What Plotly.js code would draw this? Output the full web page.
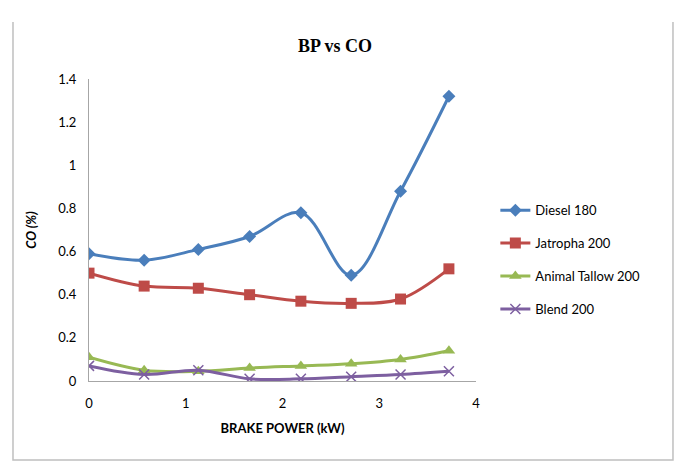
<!DOCTYPE html>
<html><head><meta charset="utf-8">
<script src="https://cdn.plot.ly/plotly-3.0.1.min.js"></script>
<style>html,body{margin:0;padding:0;background:#fff}#chart{width:677px;height:469px}</style>
</head><body><div id="chart"></div>
<script>
const brakePower = [0, 0.57, 1.13, 1.66, 2.19, 2.71, 3.22, 3.72];
const diesel = [0.59, 0.56, 0.61, 0.67, 0.78, 0.49, 0.88, 1.32];
const jatropha = [0.50, 0.44, 0.43, 0.40, 0.37, 0.36, 0.38, 0.52];
const animalTallow = [0.11, 0.05, 0.045, 0.06, 0.07, 0.08, 0.10, 0.14];
const blend = [0.07, 0.03, 0.05, 0.01, 0.01, 0.02, 0.03, 0.045];
const seriesNames = ['Diesel 180', 'Jatropha 200', 'Animal Tallow 200', 'Blend 200'];
const xTicks = [0, 1, 2, 3, 4];
const yTicks = [0, 0.2, 0.4, 0.6, 0.8, 1, 1.2, 1.4];

const colors = ['#4A7EBB', '#BE4B48', '#98B954', '#7D5FA0'];
const symbols = ['diamond', 'square', 'triangle-up', 'x-thin'];
const sizes = [10, 11, 11, 10];
const data = [diesel, jatropha, animalTallow, blend].map((ys, i) => ({
  x: brakePower, y: ys, name: seriesNames[i], type: 'scatter', mode: 'lines+markers',
  legendgroup: 'g' + i,
  line: {color: colors[i], width: 3, shape: 'spline', smoothing: 1},
  marker: {symbol: symbols[i], size: sizes[i], color: colors[i],
           line: {color: colors[i], width: i === 3 ? 1.5 : 0}}
}));

const font = 'Lato, "Open Sans", sans-serif';
const layout = {
  width: 677, height: 469,
  margin: {l: 89, r: 201, t: 79, b: 88},
  paper_bgcolor: '#fff', plot_bgcolor: '#fff',
  font: {family: font, size: 12, color: '#000'},
  title: {text: '<b>BP vs CO</b>', font: {family: '"Liberation Serif", "Times New Roman", serif', size: 18, color: '#000'},
          x: 0.495, xref: 'container', y: 1 - 46/469, yref: 'container', yanchor: 'middle'},
  xaxis: {range: [0, 4], tickvals: xTicks, ticktext: xTicks.map(String), showgrid: false, zeroline: false,
          showline: true, linecolor: '#A6A6A6', linewidth: 1, ticks: 'outside', ticklen: 10, tickcolor: 'rgba(0,0,0,0)',
          tickfont: {family: font, size: 13, color: '#000'},
          title: {text: '<b>BRAKE POWER (kW)</b>', font: {family: font, size: 13, color: '#000'}, standoff: 14}},
  yaxis: {range: [0, 1.4], tickvals: yTicks, ticktext: yTicks.map(String), showgrid: false, zeroline: false,
          showline: true, linecolor: '#A6A6A6', linewidth: 1, ticks: 'outside', ticklen: 9, tickcolor: 'rgba(0,0,0,0)',
          tickfont: {family: font, size: 13, color: '#000'},
          title: {text: '<b><i>CO (%)</i></b>', font: {family: font, size: 13, color: '#000'}, standoff: 18}},
  legend: {x: 1.05, xanchor: 'left', y: 0.615, yanchor: 'top', traceorder: 'grouped', tracegroupgap: 13,
           font: {family: font, size: 13, color: '#000'}, bgcolor: 'rgba(0,0,0,0)'},
  showlegend: true,
  shapes: [
    {type: 'path', xref: 'paper', yref: 'paper',
     path: 'M -0.1964 1.1887 L -0.1964 -0.2616 L 1.509 -0.2616 L 1.509 1.1887',
     line: {color: '#BFBFBF', width: 1.5}}
  ]
};
Plotly.newPlot('chart', data, layout, {displayModeBar: false, staticPlot: true});
</script></body></html>
